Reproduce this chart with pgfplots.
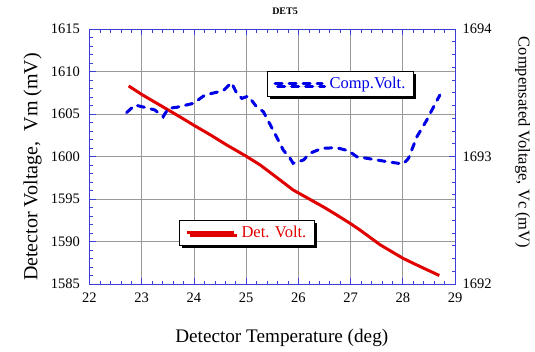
\documentclass[border=0pt]{standalone}
\usepackage{fontspec}
\setmainfont{Liberation Serif}
\newfontfamily\tfont{Liberation Serif}
\usepackage{pgfplots}
\pgfplotsset{compat=1.18}
\usetikzlibrary{shadows}
\definecolor{axblue}{RGB}{60,60,215}
\definecolor{lred}{RGB}{225,0,0}
\definecolor{lblue}{RGB}{0,0,230}
\begin{document}
\begin{tikzpicture}
\pgfplotsset{
  common/.style={
    scale only axis, width=365.5pt, height=255pt,
    xmin=22, xmax=29,
    axis line style={axblue, line width=0.8pt},
    every tick/.style={axblue, line width=0.6pt},
    major tick length=6pt, minor tick length=3.5pt,
    tick align=inside,
    ticklabel style={font=\tfont\fontsize{14.5}{16}\selectfont},
    legend cell align=left,
    legend image code/.code={\draw[##1] (0pt,0pt) -- (47pt,0pt); \path (51pt,0pt);},
  },
}
\begin{axis}[common,
  ymin=1585, ymax=1615,
  xtick={22,23,24,25,26,27,28,29}, ytick={1585,1590,1595,1600,1605,1610,1615},
  xticklabels={\tfont 22,\tfont 23,\tfont 24,\tfont 25,\tfont 26,\tfont 27,\tfont 28,\tfont 29},
  yticklabels={\tfont 1585,\tfont 1590,\tfont 1595,\tfont 1600,\tfont 1605,\tfont 1610,\tfont 1615},
  xticklabel style={yshift=-5pt},
  yticklabel style={xshift=-6pt},
  minor x tick num=4, minor y tick num=4,
  grid=major, major grid style={black!40, line width=0.7pt},
  xtick pos=both, ytick pos=left, xticklabel pos=lower,
  xlabel={Detector Temperature (deg)},
  ylabel={Detector Voltage,\ \ Vm (mV)},
  xlabel style={font=\fontsize{19.2}{21}\selectfont, at={(rel axis cs:0.526,-0.212)}, anchor=center},
  ylabel style={font=\fontsize{20}{22}\selectfont, at={(rel axis cs:-0.156,0.459)}, anchor=center},
  title={\tfont\fontsize{10}{11}\selectfont\bfseries DET5},
  title style={at={(rel axis cs:0.535,1.045)}, anchor=center},
  legend style={at={(0.245,0.251)}, anchor=north west, draw=black, line width=1pt,
    fill=white, drop shadow={shadow xshift=2.5pt, shadow yshift=-2.5pt, fill=black, opacity=1},
    inner xsep=6pt, inner ysep=4pt, font=\fontsize{16.5}{18}\selectfont},
]
\addplot[lred, line width=3pt] coordinates {
(22.75,1608.3) (23.00,1607.3) (23.25,1606.4) (23.50,1605.5) (23.75,1604.6)
(24.02,1603.6) (24.30,1602.6) (24.63,1601.35) (25.01,1600.0) (25.27,1599.0)
(25.55,1597.7) (25.90,1596.06) (26.22,1594.96) (26.50,1594.0) (26.74,1593.1)
(27.00,1592.1) (27.18,1591.35) (27.57,1589.6) (28.01,1588.0) (28.35,1587.0)
(28.70,1586.0)
};
\addlegendentry{\textcolor{lred}{Det. Volt.}}
\end{axis}
\begin{axis}[common,
  ymin=1692, ymax=1694,
  ytick={1692,1693,1694}, yticklabels={\tfont 1692,\tfont 1693,\tfont 1694}, minor y tick num=9,
  yticklabel style={xshift=4pt},
  axis x line=none, axis y line*=right,
  ylabel={Compensated Voltage, Vc (mV)},
  ylabel style={font=\fontsize{16.5}{18}\selectfont, at={(rel axis cs:1.185,0.555)}, anchor=center, rotate=180},
  legend style={at={(0.486,0.836)}, anchor=north west, draw=black, line width=1pt,
    fill=white, drop shadow={shadow xshift=2.5pt, shadow yshift=-2.5pt, fill=black, opacity=1},
    inner xsep=6pt, inner ysep=4pt, font=\fontsize{16.5}{18}\selectfont},
]
\addplot[lblue, line width=3pt, line cap=round, dash pattern=on 7pt off 7pt] coordinates {
(22.71,1693.344) (22.87,1693.404) (23.13,1693.378) (23.25,1693.365) (23.41,1693.312)
(23.51,1693.378) (23.67,1693.386) (23.99,1693.417) (24.21,1693.482) (24.56,1693.516)
(24.72,1693.579) (24.82,1693.496) (24.92,1693.456) (25.04,1693.474) (25.20,1693.39)
(25.33,1693.351) (25.55,1693.18) (25.71,1693.051) (25.84,1692.986) (25.90,1692.947)
(26.10,1692.973) (26.22,1693.025) (26.45,1693.064) (26.73,1693.069) (26.96,1693.045)
(27.12,1692.998) (27.31,1692.986) (27.69,1692.96) (28.01,1692.941) (28.11,1692.986)
(28.27,1693.155) (28.46,1693.286) (28.59,1693.39) (28.71,1693.482)
};
\addlegendentry{\textcolor{lblue}{Comp.Volt.}}
\end{axis}
\path[use as bounding box] (-89.5pt,-67pt) rectangle (445.5pt,284pt);
\end{tikzpicture}
\end{document}
